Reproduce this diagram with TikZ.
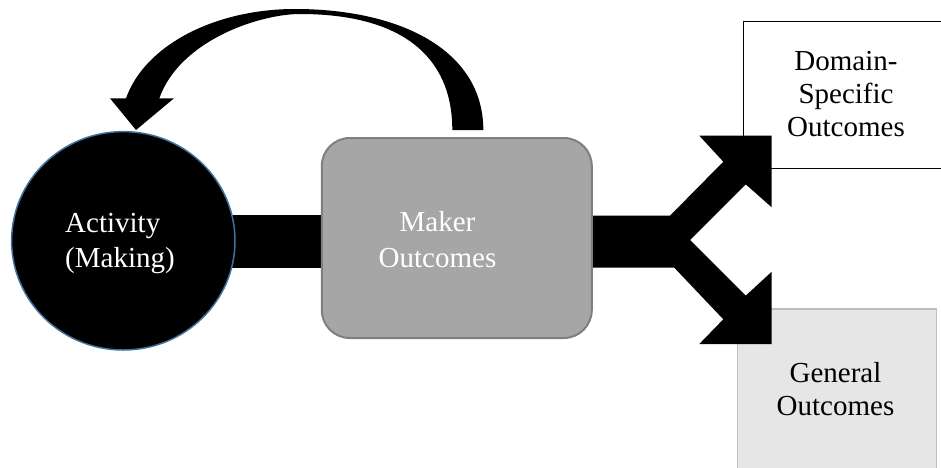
\documentclass[tikz,border=0pt]{standalone}
\usepackage{fontspec}
\setmainfont{Liberation Serif}
\usetikzlibrary{shapes.geometric}
\definecolor{circborder}{HTML}{41719C}
\definecolor{makerfill}{HTML}{A6A6A6}
\definecolor{makerborder}{HTML}{7F7F7F}
\definecolor{genfill}{HTML}{E6E6E6}
\definecolor{genborder}{HTML}{BFBFBF}
\tikzset{
  lbl/.style={inner sep=0pt, align=center},
  bigarrow/.style={fill=black, draw=none},
}
\begin{document}
\begin{tikzpicture}[x=1pt,y=-1pt]
\useasboundingbox (0,0) rectangle (941,467);
\clip (0,0) rectangle (941,467);

% outcome boxes (behind arrows)
\node[draw=black, line width=1.5pt, minimum width=217.3pt, minimum height=147pt, inner sep=0pt, anchor=north west] (dom) at (742.7,20.7) {};
\node[draw=genborder, fill=genfill, line width=1.5pt, minimum width=199pt, minimum height=180pt, inner sep=0pt, anchor=north west] (gen) at (736.7,308.3) {};

% bar from activity to maker outcomes
\fill (123,215.3) rectangle (460,267.7);

% activity ellipse
\node[ellipse, draw=circborder, fill=black, line width=1.5pt, minimum width=223.4pt, minimum height=218.4pt, inner sep=0pt] (act) at (123.3,240.8) {};

% forked arrow
\path[bigarrow] (585,215.7) -- (670,215.7) -- (723.3,161.7) -- (699.3,135.7) -- (771.7,135.7) -- (771.7,207.3) -- (745.7,184.3) -- (690,240) -- (745.7,295.7) -- (771.7,271.7) -- (771.7,344) -- (699.3,344) -- (723.3,319.3) -- (674.3,267.7) -- (585,267.7) -- cycle;

% maker outcomes box
\node[draw=makerborder, fill=makerfill, line width=2pt, rounded corners=28pt, minimum width=270pt, minimum height=200pt, inner sep=0pt] (maker) at (456.8,238) {};

% curved arrow back to activity
\path[bigarrow] (483.3,130) .. controls (483.3,50) and (400,9) .. (295,9)
  .. controls (215,9) and (145,45) .. (126,98.3) -- (110,98.3) -- (136,130) -- (174,98.3) -- (159.3,98.3)
  .. controls (180,40) and (260,14) .. (300,14)
  .. controls (400,14) and (452.3,55) .. (452.3,130) -- cycle;

% labels
\node[lbl, align=left, anchor=west, text=white, font=\fontsize{29}{35.5}\selectfont] (actlbl) at (65,243.5) {Activity\\(Making)};
\node[lbl, text=white, font=\fontsize{29}{36}\selectfont] (makerlbl) at (437.5,240) {Maker\\Outcomes};
\node[lbl, font=\fontsize{29}{33}\selectfont] (domlbl) at (846,94.2) {Domain-\\Specific\\Outcomes};
\node[lbl, font=\fontsize{29}{32.5}\selectfont] (genlbl) at (835.5,389) {General\\Outcomes};
\end{tikzpicture}
\end{document}
